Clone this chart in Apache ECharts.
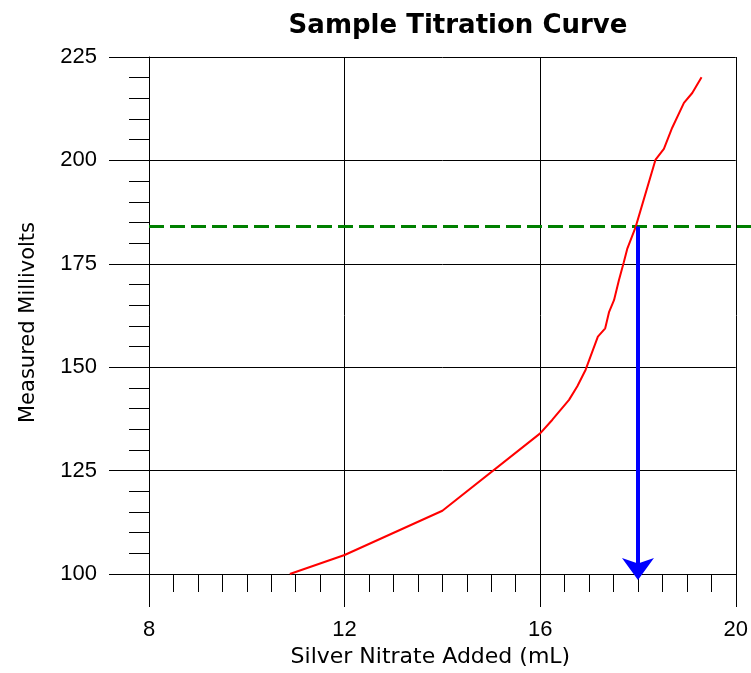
<!DOCTYPE html>
<html>
<head>
<meta charset="utf-8">
<script src="https://cdn.jsdelivr.net/npm/echarts@6/dist/echarts.min.js"></script>
<style>
  html, body { margin: 0; padding: 0; background: #fff; }
  #chart { width: 751px; height: 673px; }
</style>
</head>
<body>
<div id="chart"></div>
<script>
// Titration readings: volume of AgNO3 added (mL) and measured potential (mV)
const volumeML = [10.88, 12.0, 14.0, 16.0, 16.25, 16.59, 16.76, 16.93, 17.18, 17.33, 17.41, 17.51, 17.61, 17.71, 17.78, 17.95, 18.36, 18.53, 18.70, 18.94, 19.11, 19.30];
const millivolts = [100.0, 104.6, 115.3, 134.0, 137.3, 142.1, 145.4, 149.4, 157.4, 159.4, 163.4, 166.2, 171.0, 175.4, 178.6, 183.8, 200.2, 202.8, 207.9, 213.9, 216.3, 220.1];

// Equivalence point reading
const endpointMV = 184;
const endpointML = 18.0;
// The horizontal guide runs past the right edge of the plot
const guideSpanML = [8, 20.6];

// Axis ranges and tick spacing
const xRange = [8, 20];
const xStep = 4;
const yRange = [100, 225];
const yStep = 25;

const curve = volumeML.map((v, i) => [v, millivolts[i]]);

const chart = echarts.init(document.getElementById('chart'), null, { renderer: 'canvas' });

const tickFont = 'Liberation Sans, Arial, sans-serif';
const nameFont = 'DejaVu Sans, Verdana, sans-serif';

chart.setOption({
  animation: false,
  backgroundColor: '#ffffff',
  title: {
    text: 'Sample Titration Curve',
    left: 453,
    textAlign: 'center',
    top: 8,
    textStyle: { fontFamily: nameFont, fontWeight: 'bold', fontSize: 26, color: '#000' }
  },
  grid: { left: 149, right: 14, top: 57, bottom: 96 },
  xAxis: {
    type: 'value',
    min: xRange[0], max: xRange[1], interval: xStep,
    name: 'Silver Nitrate Added (mL)',
    nameLocation: 'middle',
    nameGap: 72,
    nameTextStyle: { fontFamily: nameFont, fontSize: 22, color: '#000', padding: [0, 24, 0, 0] },
    axisLine: { show: true, onZero: false, lineStyle: { color: '#000', width: 1 } },
    axisTick: { show: true, inside: false, length: 33, lineStyle: { color: '#000', width: 1 } },
    minorTick: { show: true, splitNumber: 8, length: 18, lineStyle: { color: '#000', width: 1 } },
    axisLabel: { margin: 45, fontFamily: tickFont, fontSize: 22, color: '#000' },
    splitLine: { show: true, lineStyle: { color: '#000', width: 1 } }
  },
  yAxis: {
    type: 'value',
    min: yRange[0], max: yRange[1], interval: yStep,
    name: 'Measured Millivolts',
    nameLocation: 'middle',
    nameGap: 110,
    nameTextStyle: { fontFamily: nameFont, fontSize: 21, color: '#000', padding: [0, 14, 0, 0] },
    axisLine: { show: true, lineStyle: { color: '#000', width: 1 } },
    axisTick: { show: true, inside: false, length: 40, lineStyle: { color: '#000', width: 1 } },
    minorTick: { show: true, splitNumber: 5, length: 20, lineStyle: { color: '#000', width: 1 } },
    axisLabel: { margin: 52, fontFamily: tickFont, fontSize: 22, color: '#000' },
    splitLine: { show: true, lineStyle: { color: '#000', width: 1 } }
  },
  series: [
    {
      name: 'Endpoint potential',
      type: 'custom',
      clip: false,
      silent: true,
      data: [[guideSpanML[0], guideSpanML[1], endpointMV]],
      renderItem: function (params, api) {
        const a = api.coord([api.value(0), api.value(2)]);
        const b = api.coord([api.value(1), api.value(2)]);
        return {
          type: 'line',
          shape: { x1: a[0], y1: a[1], x2: b[0], y2: b[1] },
          style: { stroke: '#008000', lineWidth: 3, lineDash: [15, 6], fill: null }
        };
      },
      z: 3
    },
    {
      name: 'Titration',
      type: 'line',
      data: curve,
      showSymbol: false,
      symbol: 'none',
      lineStyle: { color: '#ff0000', width: 2 },
      z: 4
    },
    {
      name: 'Endpoint volume',
      type: 'line',
      data: [],
      markLine: {
        silent: true,
        symbol: ['none', 'arrow'],
        symbolSize: [24, 22],
        symbolOffset: [0, [0, -6]],
        label: { show: false },
        lineStyle: { color: '#0000ff', width: 4, type: 'solid' },
        data: [[{ coord: [endpointML, endpointMV] }, { coord: [endpointML, yRange[0]] }]]
      },
      z: 5
    }
  ]
});
</script>
</body>
</html>
